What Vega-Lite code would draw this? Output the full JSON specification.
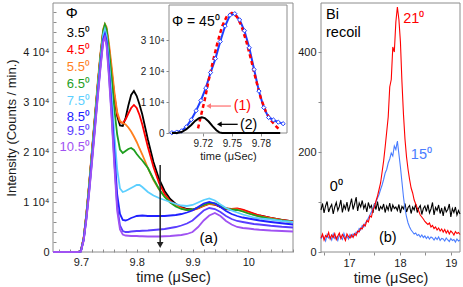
{
"$schema": "https://vega.github.io/schema/vega-lite/v6.json",
"width": 407, "height": 249,
"autosize": {"type": "none"},
"padding": {"left": 53, "top": 3, "right": 3, "bottom": 35},
"config": {
 "view": {"stroke": null},
 "font": "Liberation Sans",
 "text": {"font": "Liberation Sans"},
 "axis": {"labelFont": "Liberation Sans", "titleFont": "Liberation Sans", "grid": false, "domain": false, "tickColor": "#8c8c8c", "labelColor": "#1a1a1a", "titleColor": "#1a1a1a", "titleFontWeight": "normal", "labelOverlap": false, "labelFlush": false}
},
"datasets": {
 "frame": [{}],
 "main": [
  {"x":9.65,"p35":0,"p45":0,"p55":0,"p65":0,"p75":0,"p85":0,"p95":0,"p105":0},
  {"x":9.695,"p35":0,"p45":0,"p55":0,"p65":0,"p75":0,"p85":0,"p95":0,"p105":0},
  {"x":9.70,"p35":300,"p45":250,"p55":250,"p65":200,"p75":200,"p85":150,"p95":150,"p105":100},
  {"x":9.705,"p35":2800,"p45":2800,"p55":2900,"p65":2700,"p75":2600,"p85":2500,"p95":2400,"p105":2300},
  {"x":9.71,"p35":7800,"p45":7800,"p55":8000,"p65":7600,"p75":7400,"p85":7000,"p95":6800,"p105":6600},
  {"x":9.715,"p35":13800,"p45":13800,"p55":14100,"p65":13600,"p75":13200,"p85":12600,"p95":12300,"p105":12000},
  {"x":9.72,"p35":20300,"p45":20300,"p55":20700,"p65":20100,"p75":19600,"p85":18800,"p95":18400,"p105":18000},
  {"x":9.725,"p35":26800,"p45":26800,"p55":27300,"p65":26600,"p75":26000,"p85":25000,"p95":24600,"p105":24200},
  {"x":9.73,"p35":33200,"p45":33300,"p55":33800,"p65":33100,"p75":32500,"p85":31400,"p95":31000,"p105":30600},
  {"x":9.735,"p35":39200,"p45":39300,"p55":39800,"p65":39200,"p75":38500,"p85":37400,"p95":37000,"p105":36600},
  {"x":9.74,"p35":44000,"p45":44200,"p55":44600,"p65":44300,"p75":43500,"p85":42600,"p95":42300,"p105":42000},
  {"x":9.743,"p35":45000,"p45":45200,"p55":45600,"p65":45500,"p75":44600,"p85":43600,"p95":43200,"p105":42900},
  {"x":9.746,"p35":44200,"p45":44400,"p55":45000,"p65":44600,"p75":43300,"p85":42200,"p95":41600,"p105":41200},
  {"x":9.75,"p35":41000,"p45":41200,"p55":42000,"p65":40800,"p75":38800,"p85":37000,"p95":36000,"p105":35300},
  {"x":9.755,"p35":36000,"p45":36300,"p55":37200,"p65":35000,"p75":31500,"p85":29000,"p95":27500,"p105":26800},
  {"x":9.76,"p35":31000,"p45":31300,"p55":32000,"p65":28500,"p75":23500,"p85":20000,"p95":18000,"p105":17000},
  {"x":9.765,"p35":27200,"p45":27500,"p55":28000,"p65":23500,"p75":16500,"p85":11500,"p95":9200,"p105":8200},
  {"x":9.77,"p35":25300,"p45":26000,"p55":26200,"p65":20500,"p75":12700,"p85":7600,"p95":5300,"p105":4500},
  {"x":9.775,"p35":25200,"p45":25800,"p55":25800,"p65":19800,"p75":12000,"p85":6400,"p95":4200,"p105":3500},
  {"x":9.78,"p35":26800,"p45":26500,"p55":25500,"p65":20200,"p75":12200,"p85":6300,"p95":4000,"p105":3300},
  {"x":9.785,"p35":29300,"p45":27700,"p55":24900,"p65":20600,"p75":12500,"p85":6500,"p95":4000,"p105":3250},
  {"x":9.79,"p35":31400,"p45":28800,"p55":24100,"p65":20800,"p75":12800,"p85":6800,"p95":4100,"p105":3200},
  {"x":9.795,"p35":32200,"p45":29400,"p55":23100,"p65":20400,"p75":13100,"p85":7000,"p95":4150,"p105":3200},
  {"x":9.80,"p35":31200,"p45":28800,"p55":22000,"p65":19600,"p75":13400,"p85":7200,"p95":4200,"p105":3200},
  {"x":9.805,"p35":29500,"p45":27400,"p55":20700,"p65":18900,"p75":13400,"p85":7250,"p95":4200,"p105":3150},
  {"x":9.81,"p35":27500,"p45":25500,"p55":19500,"p65":18300,"p75":13000,"p85":7300,"p95":4250,"p105":3150},
  {"x":9.82,"p35":22500,"p45":21000,"p55":16800,"p65":16800,"p75":12000,"p85":7200,"p95":4300,"p105":3100},
  {"x":9.83,"p35":18000,"p45":17000,"p55":14400,"p65":14600,"p75":11300,"p85":7200,"p95":4400,"p105":3100},
  {"x":9.84,"p35":14600,"p45":13800,"p55":12500,"p65":12600,"p75":10800,"p85":7200,"p95":4500,"p105":3100},
  {"x":9.85,"p35":12200,"p45":11600,"p55":11100,"p65":11000,"p75":10400,"p85":7200,"p95":4600,"p105":3150},
  {"x":9.86,"p35":10600,"p45":10200,"p55":10000,"p65":9900,"p75":10000,"p85":7300,"p95":4800,"p105":3200},
  {"x":9.87,"p35":9600,"p45":9400,"p55":9300,"p65":9100,"p75":9600,"p85":7400,"p95":5000,"p105":3300},
  {"x":9.88,"p35":9000,"p45":8900,"p55":8700,"p65":8600,"p75":9300,"p85":7600,"p95":5300,"p105":3400},
  {"x":9.89,"p35":8600,"p45":8500,"p55":8400,"p65":8400,"p75":9200,"p85":7900,"p95":5700,"p105":3600},
  {"x":9.90,"p35":8500,"p45":8400,"p55":8400,"p65":8500,"p75":9400,"p85":8300,"p95":6300,"p105":4000},
  {"x":9.91,"p35":8800,"p45":8700,"p55":8800,"p65":8900,"p75":9900,"p85":9000,"p95":7300,"p105":5000},
  {"x":9.92,"p35":9300,"p45":9200,"p55":9300,"p65":9400,"p75":10400,"p85":9700,"p95":8300,"p105":6300},
  {"x":9.93,"p35":9700,"p45":9600,"p55":9700,"p65":9800,"p75":10700,"p85":10000,"p95":8800,"p105":7300},
  {"x":9.94,"p35":9500,"p45":9500,"p55":9600,"p65":9700,"p75":10300,"p85":9700,"p95":8600,"p105":7800},
  {"x":9.95,"p35":9000,"p45":9000,"p55":9100,"p65":9200,"p75":9500,"p85":9000,"p95":8000,"p105":7200},
  {"x":9.96,"p35":8600,"p45":8700,"p55":8700,"p65":8700,"p75":8800,"p85":8200,"p95":7200,"p105":6200},
  {"x":9.97,"p35":8500,"p45":8600,"p55":8500,"p65":8500,"p75":8300,"p85":7600,"p95":6600,"p105":5500},
  {"x":9.98,"p35":8600,"p45":8700,"p55":8500,"p65":8400,"p75":7900,"p85":7200,"p95":6200,"p105":5000},
  {"x":9.99,"p35":8400,"p45":8500,"p55":8200,"p65":8100,"p75":7500,"p85":6900,"p95":6000,"p105":4800},
  {"x":10.00,"p35":8000,"p45":8100,"p55":7800,"p65":7700,"p75":7200,"p85":6700,"p95":5800,"p105":4700},
  {"x":10.01,"p35":7600,"p45":7700,"p55":7400,"p65":7400,"p75":6900,"p85":6500,"p95":5600,"p105":4550},
  {"x":10.02,"p35":7300,"p45":7300,"p55":7100,"p65":7100,"p75":6700,"p85":6300,"p95":5500,"p105":4450},
  {"x":10.04,"p35":6800,"p45":6800,"p55":6700,"p65":6600,"p75":6500,"p85":6000,"p95":5250,"p105":4300},
  {"x":10.06,"p35":6400,"p45":6400,"p55":6300,"p65":6300,"p75":6200,"p85":5750,"p95":5050,"p105":4200},
  {"x":10.08,"p35":6100,"p45":6100,"p55":6000,"p65":6000,"p75":6000,"p85":5500,"p95":4900,"p105":4100}
 ],
 "mainLabels": [
  {"x":9.7161,"y":43800,"t":"3.5⁰","c":"p35"},
  {"x":9.7161,"y":40400,"t":"4.5⁰","c":"p45"},
  {"x":9.7161,"y":37000,"t":"5.5⁰","c":"p55"},
  {"x":9.7161,"y":33600,"t":"6.5⁰","c":"p65"},
  {"x":9.7161,"y":30200,"t":"7.5⁰","c":"p75"},
  {"x":9.7161,"y":27000,"t":"8.5⁰","c":"p85"},
  {"x":9.7161,"y":24200,"t":"9.5⁰","c":"p95"},
  {"x":9.7161,"y":21100,"t":"10.5⁰","c":"p105"}
 ],
 "mainNotes": [
  {"x":9.6834,"y":47740,"t":"Φ"},
  {"x":9.9291,"y":2740,"t":"(a)"}
 ],
 "mainArrow": [{"x":9.842,"y":17400,"y2":1400}],
 "fit": [
  {"x":9.688,"y":100},{"x":9.693,"y":300},{"x":9.698,"y":700},{"x":9.703,"y":2000},
  {"x":9.708,"y":4300},{"x":9.713,"y":7200},{"x":9.718,"y":10500},{"x":9.723,"y":14500},
  {"x":9.728,"y":19500},{"x":9.733,"y":24000},{"x":9.738,"y":29500},{"x":9.743,"y":34500},
  {"x":9.748,"y":38000},{"x":9.753,"y":38500},{"x":9.758,"y":36500},{"x":9.763,"y":33000},
  {"x":9.768,"y":27500},{"x":9.773,"y":20500},{"x":9.778,"y":13500},{"x":9.783,"y":8200},
  {"x":9.788,"y":5000},{"x":9.793,"y":4200},{"x":9.798,"y":3500},{"x":9.803,"y":3000}
 ],
 "c1": [
  {"x":9.715,"y":1500},{"x":9.718,"y":5500},{"x":9.722,"y":10800},{"x":9.726,"y":17000},
  {"x":9.73,"y":22500},{"x":9.735,"y":29000},{"x":9.74,"y":34500},{"x":9.745,"y":37800},
  {"x":9.75,"y":38700},{"x":9.755,"y":37600},{"x":9.76,"y":34500},{"x":9.765,"y":29500},
  {"x":9.77,"y":23500},{"x":9.775,"y":17000},{"x":9.78,"y":11200},{"x":9.785,"y":7000},
  {"x":9.79,"y":4200},{"x":9.795,"y":2400},{"x":9.80,"y":800}
 ],
 "c2": [
  {"x":9.688,"y":0},{"x":9.693,"y":0},{"x":9.698,"y":300},{"x":9.703,"y":1200},
  {"x":9.708,"y":2600},{"x":9.712,"y":3900},{"x":9.716,"y":4800},{"x":9.719,"y":5050},
  {"x":9.722,"y":4800},{"x":9.726,"y":3700},{"x":9.73,"y":2200},{"x":9.734,"y":900},
  {"x":9.737,"y":200},{"x":9.74,"y":0},{"x":9.80,"y":0}
 ],
 "insetText": [
  {"x":9.6881,"y":35800,"t":"Φ = 45⁰","c":"lab"},
  {"x":9.752,"y":8700,"t":"(1)","c":"c1"},
  {"x":9.7584,"y":2600,"t":"(2)","c":"lab"}
 ],
 "insetArrows": [
  {"x":9.749,"x2":9.726,"y":8700,"c":"arr1"},
  {"x":9.756,"x2":9.737,"y":2800,"c":"lab"}
 ],
 "right": [
  {"x":16.45,"r0":84,"r15":26,"r21":28},{"x":16.48,"r0":97,"r15":33,"r21":36},
  {"x":16.51,"r0":78,"r15":29,"r21":24},{"x":16.54,"r0":92,"r15":22,"r21":33},
  {"x":16.57,"r0":101,"r15":35,"r21":30},{"x":16.60,"r0":80,"r15":28,"r21":39},
  {"x":16.63,"r0":89,"r15":31,"r21":26},{"x":16.66,"r0":95,"r15":24,"r21":34},
  {"x":16.69,"r0":76,"r15":36,"r21":29},{"x":16.72,"r0":90,"r15":27,"r21":37},
  {"x":16.75,"r0":99,"r15":30,"r21":25},{"x":16.78,"r0":83,"r15":23,"r21":32},
  {"x":16.81,"r0":91,"r15":34,"r21":38},{"x":16.84,"r0":104,"r15":29,"r21":27},
  {"x":16.87,"r0":79,"r15":25,"r21":35},{"x":16.90,"r0":94,"r15":37,"r21":30},
  {"x":16.93,"r0":86,"r15":28,"r21":23},{"x":16.96,"r0":100,"r15":32,"r21":36},
  {"x":16.99,"r0":81,"r15":26,"r21":31},{"x":17.02,"r0":93,"r15":35,"r21":28},
  {"x":17.05,"r0":107,"r15":30,"r21":34},{"x":17.08,"r0":85,"r15":36,"r21":29},
  {"x":17.11,"r0":96,"r15":33,"r21":37},{"x":17.14,"r0":110,"r15":40,"r21":33},
  {"x":17.17,"r0":82,"r15":38,"r21":42},{"x":17.20,"r0":98,"r15":47,"r21":40},
  {"x":17.23,"r0":90,"r15":44,"r21":48},{"x":17.26,"r0":103,"r15":53,"r21":46},
  {"x":17.29,"r0":87,"r15":50,"r21":55},{"x":17.32,"r0":95,"r15":58,"r21":52},
  {"x":17.35,"r0":80,"r15":62,"r21":63},{"x":17.38,"r0":99,"r15":68,"r21":60},
  {"x":17.41,"r0":88,"r15":74,"r21":72},{"x":17.44,"r0":93,"r15":80,"r21":70},
  {"x":17.47,"r0":78,"r15":86,"r21":84},{"x":17.50,"r0":97,"r15":95,"r21":90},
  {"x":17.53,"r0":85,"r15":100,"r21":102},{"x":17.56,"r0":101,"r15":108,"r21":112},
  {"x":17.59,"r0":82,"r15":115,"r21":125},{"x":17.62,"r0":91,"r15":125,"r21":138},
  {"x":17.65,"r0":86,"r15":134,"r21":160},{"x":17.68,"r0":96,"r15":145,"r21":182},
  {"x":17.71,"r0":79,"r15":158,"r21":210},{"x":17.74,"r0":92,"r15":165,"r21":240},
  {"x":17.77,"r0":84,"r15":178,"r21":270},{"x":17.80,"r0":98,"r15":186,"r21":330},
  {"x":17.83,"r0":81,"r15":198,"r21":345},{"x":17.86,"r0":94,"r15":192,"r21":410},
  {"x":17.89,"r0":87,"r15":212,"r21":400},{"x":17.92,"r0":90,"r15":205,"r21":460},
  {"x":17.95,"r0":83,"r15":222,"r21":490},{"x":17.98,"r0":95,"r15":196,"r21":465},
  {"x":18.01,"r0":78,"r15":170,"r21":420},{"x":18.04,"r0":91,"r15":140,"r21":340},
  {"x":18.07,"r0":86,"r15":110,"r21":275},{"x":18.10,"r0":97,"r15":86,"r21":225},
  {"x":18.13,"r0":80,"r15":70,"r21":190},{"x":18.16,"r0":89,"r15":58,"r21":165},
  {"x":18.19,"r0":93,"r15":50,"r21":145},{"x":18.22,"r0":77,"r15":44,"r21":128},
  {"x":18.25,"r0":90,"r15":40,"r21":118},{"x":18.28,"r0":84,"r15":36,"r21":104},
  {"x":18.31,"r0":96,"r15":38,"r21":96},{"x":18.34,"r0":79,"r15":33,"r21":88},
  {"x":18.37,"r0":88,"r15":35,"r21":82},{"x":18.40,"r0":93,"r15":30,"r21":74},
  {"x":18.43,"r0":75,"r15":34,"r21":70},{"x":18.46,"r0":87,"r15":29,"r21":66},
  {"x":18.49,"r0":92,"r15":32,"r21":61},{"x":18.52,"r0":81,"r15":27,"r21":58},
  {"x":18.55,"r0":95,"r15":31,"r21":55},{"x":18.58,"r0":78,"r15":26,"r21":58},
  {"x":18.61,"r0":86,"r15":30,"r21":50},{"x":18.64,"r0":99,"r15":28,"r21":53},
  {"x":18.67,"r0":74,"r15":24,"r21":47},{"x":18.70,"r0":89,"r15":29,"r21":50},
  {"x":18.73,"r0":83,"r15":25,"r21":44},{"x":18.76,"r0":94,"r15":30,"r21":48},
  {"x":18.79,"r0":77,"r15":23,"r21":42},{"x":18.82,"r0":88,"r15":27,"r21":46},
  {"x":18.85,"r0":72,"r15":26,"r21":40},{"x":18.88,"r0":91,"r15":22,"r21":45},
  {"x":18.91,"r0":80,"r15":28,"r21":38},{"x":18.94,"r0":85,"r15":24,"r21":43},
  {"x":18.97,"r0":96,"r15":21,"r21":36},{"x":19.00,"r0":70,"r15":27,"r21":42},
  {"x":19.03,"r0":87,"r15":23,"r21":39},{"x":19.06,"r0":79,"r15":25,"r21":34},
  {"x":19.09,"r0":90,"r15":20,"r21":41},{"x":19.12,"r0":74,"r15":26,"r21":37},
  {"x":19.15,"r0":83,"r15":22,"r21":39},{"x":19.18,"r0":76,"r15":24,"r21":35}
 ],
 "rightText": [
  {"x":16.548,"y":474,"t":"Bi","c":"lab"},
  {"x":16.548,"y":439,"t":"recoil","c":"lab"},
  {"x":18.064,"y":467,"t":"21⁰","c":"r21"},
  {"x":18.215,"y":194,"t":"15⁰","c":"r15"},
  {"x":16.62,"y":130,"t":"0⁰","c":"r0"},
  {"x":17.587,"y":29,"t":"(b)","c":"lab"}
 ]
},
"layer": [
 {"data": {"name": "frame"}, "mark": {"type": "rect", "fillOpacity": 0, "stroke": "#8c8c8c", "strokeWidth": 1},
  "encoding": {
   "x": {"datum": 9.65, "type": "quantitative", "scale": {"domain": [9.65, 10.08], "range": [0, 240], "nice": false, "zero": false}, "axis": null},
   "x2": {"datum": 10.08},
   "y": {"datum": 0, "type": "quantitative", "scale": {"domain": [0, 49800], "range": [249, 0], "nice": false, "zero": false}, "axis": null},
   "y2": {"datum": 49800}}},
 {"data": {"name": "main"},
  "transform": [{"fold": ["p35","p45","p55","p65","p75","p85","p95","p105"], "as": ["s","y"]}],
  "mark": {"type": "line", "strokeWidth": 1.8},
  "encoding": {
   "x": {"field": "x", "type": "quantitative", "scale": {"domain": [9.65, 10.08], "range": [0, 240], "nice": false, "zero": false},
     "axis": {"orient": "bottom", "title": "time (μSec)", "values": [9.66,9.68,9.7,9.72,9.74,9.76,9.78,9.8,9.82,9.84,9.86,9.88,9.9,9.92,9.94,9.96,9.98,10,10.02,10.04,10.06,10.08],
       "labelExpr": "indexof(['9.7','9.8','9.9','10'], format(datum.value, '.2~f')) >= 0 ? format(datum.value, '.2~f') : ''",
       "tickSize": -3, "labelPadding": 7, "labelFontSize": 11, "titleFontSize": 14.5, "titlePadding": 3}},
   "y": {"field": "y", "type": "quantitative", "scale": {"domain": [0, 49800], "range": [249, 0], "nice": false, "zero": false},
     "axis": {"orient": "left", "title": "Intensity (Counts / min.)", "values": [0,2000,4000,6000,8000,10000,12000,14000,16000,18000,20000,22000,24000,26000,28000,30000,32000,34000,36000,38000,40000,42000,44000,46000,48000],
       "labelExpr": "datum.value % 10000 == 0 ? (datum.value == 0 ? '0' : format(datum.value/10000, 'd') + ' 10⁴') : ''",
       "tickSize": -3, "labelPadding": 7, "labelFontSize": 11, "titleFontSize": 13, "titlePadding": 4}},
   "color": {"field": "s", "type": "nominal", "legend": null,
      "scale": {"domain": ["p35","p45","p55","p65","p75","p85","p95","p105","c1","r0","r15","r21","lab","arr1"], "range": ["#000000","#ff0000","#ff7f1e","#1e9e1e","#5ccfff","#2020ff","#5a3dff","#a052f2","#ff0000","#000000","#4a7dff","#ff0000","#000000","#ff7878"]}}}},
 {"data": {"name": "mainArrow"}, "mark": {"type": "rule", "color": "#222222", "strokeWidth": 1.5},
  "encoding": {
   "x": {"field": "x", "type": "quantitative", "scale": {"domain": [9.65, 10.08], "range": [0, 240], "nice": false, "zero": false}, "axis": null},
   "y": {"field": "y", "type": "quantitative", "scale": {"domain": [0, 49800], "range": [249, 0], "nice": false, "zero": false}, "axis": null},
   "y2": {"field": "y2"}}},
 {"data": {"name": "mainArrow"}, "mark": {"type": "point", "shape": "triangle-down", "filled": true, "color": "#222222", "size": 45, "opacity": 1},
  "encoding": {
   "x": {"field": "x", "type": "quantitative", "scale": {"domain": [9.65, 10.08], "range": [0, 240], "nice": false, "zero": false}, "axis": null},
   "y": {"field": "y2", "type": "quantitative", "scale": {"domain": [0, 49800], "range": [249, 0], "nice": false, "zero": false}, "axis": null}}},
 {"data": {"name": "mainLabels"}, "mark": {"type": "text", "align": "right", "baseline": "middle", "fontSize": 13},
  "encoding": {
   "x": {"field": "x", "type": "quantitative", "scale": {"domain": [9.65, 10.08], "range": [0, 240], "nice": false, "zero": false}, "axis": null},
   "y": {"field": "y", "type": "quantitative", "scale": {"domain": [0, 49800], "range": [249, 0], "nice": false, "zero": false}, "axis": null},
   "text": {"field": "t"},
   "color": {"field": "c", "type": "nominal", "legend": null,
      "scale": {"domain": ["p35","p45","p55","p65","p75","p85","p95","p105","c1","r0","r15","r21","lab","arr1"], "range": ["#000000","#ff0000","#ff7f1e","#1e9e1e","#5ccfff","#2020ff","#5a3dff","#a052f2","#ff0000","#000000","#4a7dff","#ff0000","#000000","#ff7878"]}}}},
 {"data": {"name": "mainNotes"}, "mark": {"type": "text", "align": "center", "baseline": "middle", "fontSize": 15, "color": "#000000"},
  "encoding": {
   "x": {"field": "x", "type": "quantitative", "scale": {"domain": [9.65, 10.08], "range": [0, 240], "nice": false, "zero": false}, "axis": null},
   "y": {"field": "y", "type": "quantitative", "scale": {"domain": [0, 49800], "range": [249, 0], "nice": false, "zero": false}, "axis": null},
   "text": {"field": "t"}}},

 {"data": {"name": "frame"}, "mark": {"type": "rect", "fill": "#ffffff", "stroke": "#8c8c8c", "strokeWidth": 1},
  "encoding": {
   "x": {"datum": 9.685, "type": "quantitative", "scale": {"domain": [9.685, 9.807], "range": [116, 234], "nice": false, "zero": false}, "axis": null},
   "x2": {"datum": 9.807},
   "y": {"datum": 0, "type": "quantitative", "scale": {"domain": [0, 41300], "range": [130, 2], "nice": false, "zero": false}, "axis": null},
   "y2": {"datum": 41300}}},
 {"data": {"name": "fit"}, "mark": {"type": "line", "color": "#1f3fff", "strokeWidth": 2},
  "encoding": {
   "x": {"field": "x", "type": "quantitative", "scale": {"domain": [9.685, 9.807], "range": [116, 234], "nice": false, "zero": false},
     "axis": {"orient": "bottom", "offset": -119, "title": "time (μSec)", "values": [9.72, 9.75, 9.78], "format": ".2f",
       "tickSize": 3, "labelPadding": 2, "labelFontSize": 10, "titleFontSize": 11, "titlePadding": 2}},
   "y": {"field": "y", "type": "quantitative", "scale": {"domain": [0, 41300], "range": [130, 2], "nice": false, "zero": false},
     "axis": {"orient": "left", "offset": -116, "title": null, "values": [0, 10000, 20000, 30000],
       "labelExpr": "datum.value == 0 ? '0' : format(datum.value/10000, 'd') + ' 10⁴'",
       "tickSize": 3, "labelPadding": 2, "labelFontSize": 10}}}},
 {"data": {"name": "c1"}, "mark": {"type": "line", "color": "#ff0000", "strokeWidth": 2.5, "strokeDash": [4, 3]},
  "encoding": {
   "x": {"field": "x", "type": "quantitative", "scale": {"domain": [9.685, 9.807], "range": [116, 234], "nice": false, "zero": false}, "axis": null},
   "y": {"field": "y", "type": "quantitative", "scale": {"domain": [0, 41300], "range": [130, 2], "nice": false, "zero": false}, "axis": null}}},
 {"data": {"name": "fit"}, "mark": {"type": "point", "shape": "diamond", "filled": true, "fill": "#ffffff", "stroke": "#1f3fff", "strokeWidth": 1, "size": 18, "opacity": 1},
  "encoding": {
   "x": {"field": "x", "type": "quantitative", "scale": {"domain": [9.685, 9.807], "range": [116, 234], "nice": false, "zero": false}, "axis": null},
   "y": {"field": "y", "type": "quantitative", "scale": {"domain": [0, 41300], "range": [130, 2], "nice": false, "zero": false}, "axis": null}}},
 {"data": {"name": "c2"}, "mark": {"type": "line", "color": "#000000", "strokeWidth": 2},
  "encoding": {
   "x": {"field": "x", "type": "quantitative", "scale": {"domain": [9.685, 9.807], "range": [116, 234], "nice": false, "zero": false}, "axis": null},
   "y": {"field": "y", "type": "quantitative", "scale": {"domain": [0, 41300], "range": [130, 2], "nice": false, "zero": false}, "axis": null}}},
 {"data": {"name": "insetArrows"}, "mark": {"type": "rule", "strokeWidth": 1.3},
  "encoding": {
   "x": {"field": "x", "type": "quantitative", "scale": {"domain": [9.685, 9.807], "range": [116, 234], "nice": false, "zero": false}, "axis": null},
   "x2": {"field": "x2"},
   "y": {"field": "y", "type": "quantitative", "scale": {"domain": [0, 41300], "range": [130, 2], "nice": false, "zero": false}, "axis": null},
   "color": {"field": "c", "type": "nominal", "legend": null,
      "scale": {"domain": ["p35","p45","p55","p65","p75","p85","p95","p105","c1","r0","r15","r21","lab","arr1"], "range": ["#000000","#ff0000","#ff7f1e","#1e9e1e","#5ccfff","#2020ff","#5a3dff","#a052f2","#ff0000","#000000","#4a7dff","#ff0000","#000000","#ff7878"]}}}},
 {"data": {"name": "insetArrows"}, "mark": {"type": "point", "shape": "triangle-left", "filled": true, "size": 30, "opacity": 1},
  "encoding": {
   "x": {"field": "x2", "type": "quantitative", "scale": {"domain": [9.685, 9.807], "range": [116, 234], "nice": false, "zero": false}, "axis": null},
   "y": {"field": "y", "type": "quantitative", "scale": {"domain": [0, 41300], "range": [130, 2], "nice": false, "zero": false}, "axis": null},
   "color": {"field": "c", "type": "nominal", "legend": null,
      "scale": {"domain": ["p35","p45","p55","p65","p75","p85","p95","p105","c1","r0","r15","r21","lab","arr1"], "range": ["#000000","#ff0000","#ff7f1e","#1e9e1e","#5ccfff","#2020ff","#5a3dff","#a052f2","#ff0000","#000000","#4a7dff","#ff0000","#000000","#ff7878"]}}}},
 {"data": {"name": "insetText"}, "mark": {"type": "text", "align": "left", "baseline": "middle", "fontSize": 14},
  "encoding": {
   "x": {"field": "x", "type": "quantitative", "scale": {"domain": [9.685, 9.807], "range": [116, 234], "nice": false, "zero": false}, "axis": null},
   "y": {"field": "y", "type": "quantitative", "scale": {"domain": [0, 41300], "range": [130, 2], "nice": false, "zero": false}, "axis": null},
   "text": {"field": "t"},
   "color": {"field": "c", "type": "nominal", "legend": null,
      "scale": {"domain": ["p35","p45","p55","p65","p75","p85","p95","p105","c1","r0","r15","r21","lab","arr1"], "range": ["#000000","#ff0000","#ff7f1e","#1e9e1e","#5ccfff","#2020ff","#5a3dff","#a052f2","#ff0000","#000000","#4a7dff","#ff0000","#000000","#ff7878"]}}}},

 {"data": {"name": "frame"}, "mark": {"type": "rect", "fillOpacity": 0, "stroke": "#8c8c8c", "strokeWidth": 1},
  "encoding": {
   "x": {"datum": 16.45, "type": "quantitative", "scale": {"domain": [16.45, 19.18], "range": [268, 407], "nice": false, "zero": false}, "axis": null},
   "x2": {"datum": 19.18},
   "y": {"datum": 0, "type": "quantitative", "scale": {"domain": [0, 498], "range": [249, 0], "nice": false, "zero": false}, "axis": null},
   "y2": {"datum": 498}}},
 {"data": {"name": "right"},
  "transform": [{"fold": ["r0", "r15", "r21"], "as": ["s", "y"]}],
  "mark": {"type": "line", "strokeWidth": 1.1},
  "encoding": {
   "x": {"field": "x", "type": "quantitative", "scale": {"domain": [16.45, 19.18], "range": [268, 407], "nice": false, "zero": false},
     "axis": {"orient": "bottom", "title": "time (μSec)", "values": [16.5, 17, 17.5, 18, 18.5, 19],
       "labelExpr": "datum.value % 1 == 0 ? format(datum.value, 'd') : ''",
       "tickSize": 3, "labelPadding": 2, "labelFontSize": 11, "titleFontSize": 14.5, "titlePadding": 3}},
   "y": {"field": "y", "type": "quantitative", "scale": {"domain": [0, 498], "range": [249, 0], "nice": false, "zero": false},
     "axis": {"orient": "left", "offset": -268, "title": null, "values": [0, 100, 200, 300, 400],
       "labelExpr": "datum.value % 200 == 0 ? format(datum.value, 'd') : ''",
       "tickSize": 3, "labelPadding": 2, "labelFontSize": 11}},
   "color": {"field": "s", "type": "nominal", "legend": null,
      "scale": {"domain": ["p35","p45","p55","p65","p75","p85","p95","p105","c1","r0","r15","r21","lab","arr1"], "range": ["#000000","#ff0000","#ff7f1e","#1e9e1e","#5ccfff","#2020ff","#5a3dff","#a052f2","#ff0000","#000000","#4a7dff","#ff0000","#000000","#ff7878"]}}}},
 {"data": {"name": "rightText"}, "mark": {"type": "text", "align": "left", "baseline": "middle", "fontSize": 14.5},
  "encoding": {
   "x": {"field": "x", "type": "quantitative", "scale": {"domain": [16.45, 19.18], "range": [268, 407], "nice": false, "zero": false}, "axis": null},
   "y": {"field": "y", "type": "quantitative", "scale": {"domain": [0, 498], "range": [249, 0], "nice": false, "zero": false}, "axis": null},
   "text": {"field": "t"},
   "color": {"field": "c", "type": "nominal", "legend": null,
      "scale": {"domain": ["p35","p45","p55","p65","p75","p85","p95","p105","c1","r0","r15","r21","lab","arr1"], "range": ["#000000","#ff0000","#ff7f1e","#1e9e1e","#5ccfff","#2020ff","#5a3dff","#a052f2","#ff0000","#000000","#4a7dff","#ff0000","#000000","#ff7878"]}}}}
],
"resolve": {"scale": {"x": "independent", "y": "independent"}, "axis": {"x": "independent", "y": "independent"}}
}
